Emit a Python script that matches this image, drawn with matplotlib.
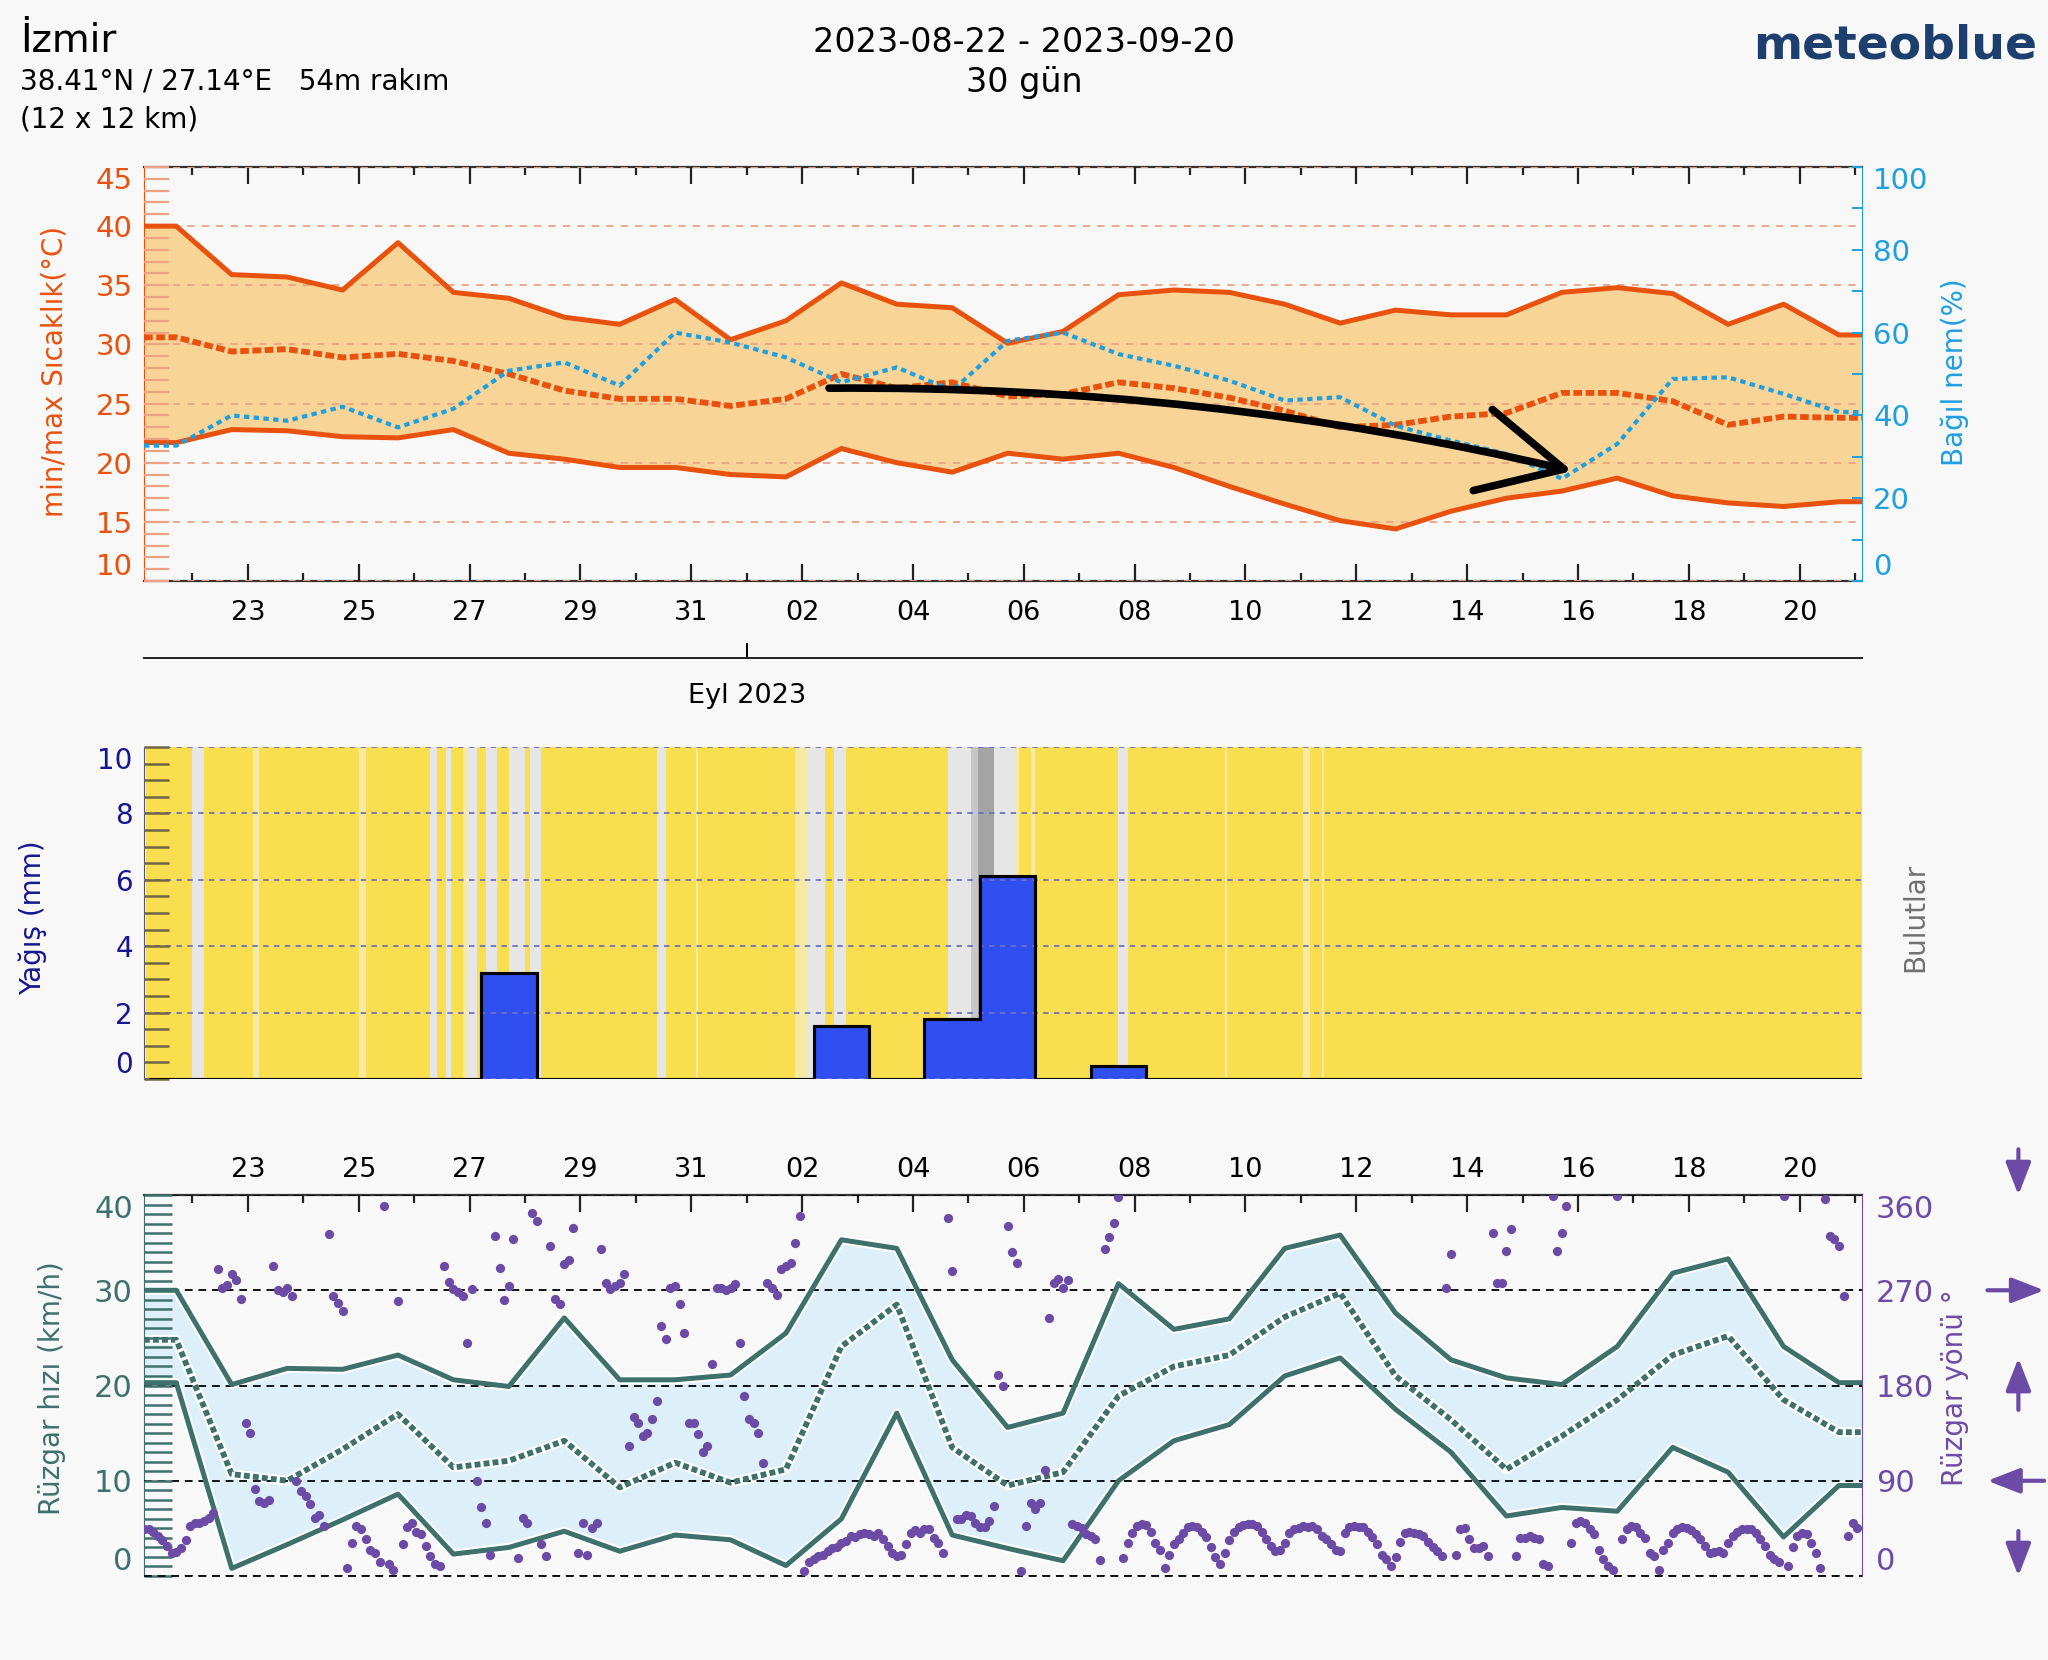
import numpy as np
import pandas as pd
import matplotlib
matplotlib.use("Agg")
import matplotlib.pyplot as plt
import matplotlib.dates as mdates
from matplotlib.colors import ListedColormap
from matplotlib.ticker import FixedLocator, MultipleLocator

plt.rcParams["font.family"] = ["DejaVu Sans"]

# ---------------- data (times are UTC) ----------------
day_times = pd.date_range("2023-08-21 14:00", periods=31, freq="D")

temp_max = [40.0, 35.9, 35.7, 34.6, 38.6, 34.4, 33.9, 32.3, 31.7, 33.8, 30.4,
            32.0, 35.2, 33.4, 33.1, 30.1, 31.1, 34.2, 34.6, 34.4, 33.4, 31.8,
            32.9, 32.5, 32.5, 34.4, 34.8, 34.3, 31.7, 33.4, 30.8]
temp_min = [21.7, 22.8, 22.7, 22.2, 22.1, 22.8, 20.8, 20.3, 19.6, 19.6, 19.0,
            18.8, 21.2, 20.0, 19.2, 20.8, 20.3, 20.8, 19.6, 18.0, 16.5, 15.1,
            14.4, 15.9, 17.0, 17.6, 18.7, 17.2, 16.6, 16.3, 16.7]
temp_mean = [30.6, 29.4, 29.6, 28.9, 29.2, 28.6, 27.5, 26.1, 25.4, 25.4, 24.8,
             25.4, 27.5, 26.3, 26.8, 25.6, 25.8, 26.8, 26.3, 25.5, 24.4, 23.0,
             23.2, 23.9, 24.2, 25.9, 25.9, 25.2, 23.2, 23.9, 23.8]
humidity = [32.7, 40.0, 38.7, 42.1, 37.1, 41.6, 50.8, 52.8, 47.2, 60.0, 57.6,
            54.0, 48.0, 51.6, 46.0, 58.0, 60.0, 54.8, 52.0, 48.4, 43.6, 44.4,
            37.5, 33.9, 30.7, 24.7, 33.1, 48.8, 49.2, 45.2, 40.8]

precip_days = pd.date_range("2023-08-21 02:00", periods=32, freq="D")  # bin edges
precip = [0, 0, 0, 0, 0, 0, 3.2, 0, 0, 0, 0, 0, 1.6, 0, 1.8, 6.1,
          0, 0.4, 0, 0, 0, 0, 0, 0, 0, 0, 0, 0, 0, 0, 0]

# cloudy hours counted from 2023-08-21 01:00 UTC: (first hour, last hour, level)
cloud_spans = [(20, 25, 2), (46, 49, 1), (92, 95, 1), (123, 126, 2), (130, 132, 2),
               (137, 139, 1), (139, 143, 2), (147, 152, 2), (157, 164, 2),
               (166, 171, 2), (221, 225, 2), (238, 239, 1), (281, 286, 1),
               (286, 294, 2), (298, 303, 2), (347, 357, 2), (357, 360, 3),
               (360, 367, 4), (367, 376, 2), (376, 378, 1), (383, 385, 1),
               (421, 425, 2), (467, 468, 1), (501, 504, 1), (509, 510, 1)]
cloud_colors = ["#f9df4f", "#f4eaa6", "#e6e6e6", "#c6c6c6", "#a4a4a4"]

wind_max = [30.0, 20.1, 21.8, 21.7, 23.2, 20.6, 19.9, 27.1, 20.6, 20.6, 21.1,
            25.5, 35.3, 34.4, 22.7, 15.6, 17.1, 30.7, 25.9, 27.0, 34.4, 35.8,
            27.6, 22.7, 20.8, 20.1, 24.1, 31.8, 33.3, 24.1, 20.3]
wind_min = [20.3, 0.8, 3.3, 5.9, 8.6, 2.3, 3.0, 4.7, 2.6, 4.3, 3.8,
            1.1, 6.0, 17.1, 4.3, 2.9, 1.6, 10.0, 14.2, 15.9, 21.0, 22.9,
            17.5, 13.0, 6.3, 7.2, 6.8, 13.5, 10.9, 4.1, 9.5]
wind_mean = [24.8, 10.7, 10.0, 13.3, 17.0, 11.4, 12.1, 14.2, 9.3, 11.9, 9.8,
             11.2, 24.1, 28.5, 13.5, 9.5, 10.9, 18.9, 22.0, 23.2, 27.2, 29.7,
             21.0, 16.4, 11.2, 14.7, 18.5, 23.2, 25.2, 18.5, 15.1]

# wind direction, every 2 hours (00, 02, ... 22 UTC), one row per day
wind_dir_rows = [
    [44, 44, 42, 38, 34, 28, 22, 23, 26, 34, 47, 50],
    [50, 52, 55, 60, 290, 272, 275, 285, 280, 262, 145, 135],
    [82, 71, 69, 72, 293, 270, 268, 272, 265, 90, 80, 76],
    [68, 55, 58, 47, 323, 265, 258, 250, 8, 31, 47, 44],
    [35, 25, 22, 13, 350, 11, 6, 260, 30, 46, 50, 42],
    [40, 28, 19, 11, 9, 293, 278, 271, 268, 265, 220, 271],
    [90, 65, 50, 20, 321, 291, 261, 274, 318, 17, 55, 50],
    [343, 335, 30, 19, 312, 262, 257, 295, 299, 329, 22, 50],
    [20, 45, 50, 309, 277, 271, 274, 277, 285, 123, 150, 145],
    [132, 135, 148, 165, 236, 224, 272, 274, 257, 230, 145, 145],
    [134, 117, 123, 200, 272, 272, 270, 272, 276, 220, 170, 148],
    [145, 135, 107, 277, 272, 266, 290, 293, 296, 315, 340, 5],
    [13, 16, 19, 20, 24, 26, 27, 31, 33, 38, 37, 40],
    [41, 40, 38, 41, 35, 28, 22, 19, 20, 30, 41, 43],
    [41, 44, 44, 36, 31, 22, 338, 288, 54, 54, 58, 57],
    [50, 46, 46, 52, 66, 190, 180, 331, 306, 296, 5, 47],
    [69, 63, 69, 100, 244, 277, 281, 272, 280, 49, 47, 45],
    [40, 38, 35, 15, 309, 320, 334, 358, 17, 31, 41, 47],
    [49, 48, 42, 31, 25, 8, 20, 30, 35, 41, 46, 47],
    [46, 42, 37, 27, 18, 11, 22, 34, 42, 46, 48, 49],
    [49, 47, 42, 35, 28, 24, 25, 31, 41, 44, 45, 47],
    [46, 47, 44, 38, 35, 30, 25, 24, 41, 46, 47, 46],
    [46, 42, 37, 30, 20, 16, 9, 18, 32, 41, 42, 41],
    [40, 38, 32, 27, 24, 19, 272, 304, 20, 44, 45, 35],
    [26, 26, 28, 19, 324, 277, 277, 307, 328, 19, 36, 36],
    [38, 36, 35, 11, 9, 359, 307, 324, 350, 31, 50, 52],
    [50, 44, 40, 25, 16, 9, 6, 359, 35, 44, 47, 46],
    [41, 36, 22, 19, 6, 25, 31, 41, 44, 46, 45, 43],
    [40, 35, 28, 22, 23, 24, 22, 31, 38, 42, 44, 44],
    [44, 41, 35, 28, 20, 16, 13, 359, 9, 27, 38, 41],
    [40, 31, 22, 8, 356, 321, 318, 312, 265, 38, 50, 45],
]

# ---------------- styling ----------------
BG = "#f8f8f8"
ORANGE = "#e9510e"
ORANGE_FILL = "#f8d597"
SALMON = "#eea282"
HUM_BLUE = "#1e9fe0"
NAVY = "#16168f"
BAR_BLUE = "#2f4ff0"
TEAL = "#3e716b"
WIND_FILL = "#ddeff9"
PURPLE = "#6c4ba6"


def dnum(times):
    return mdates.date2num(pd.DatetimeIndex(times).to_pydatetime())


x0, x1 = dnum(["2023-08-21 00:00", "2023-09-21 00:00"])
day_x = dnum(day_times)
xs = np.r_[x0, day_x, x1]


def ext(values):
    # hold first/last daily value out to the plot edges
    v = np.asarray(values, float)
    return np.r_[v[0], v, v[-1]]


# ticks at local (UTC+3) midnight
major_t = pd.date_range("2023-08-22 21:00", "2023-09-19 21:00", freq="2D")
minor_t = pd.date_range("2023-08-21 21:00", "2023-09-20 21:00", freq="D")
major_x = dnum(major_t)
minor_x = dnum(minor_t)
tick_labels = [(t + pd.Timedelta(hours=3)).strftime("%d") for t in major_t]


def y_ticks(ax, lo, hi, step, minor=None):
    vals = np.arange(lo, hi + step / 2, step)
    ax.yaxis.set_major_locator(FixedLocator(vals))
    if minor:
        ax.yaxis.set_minor_locator(MultipleLocator(minor))
    # first/last labels sit inside the axis range, like the original
    ticks = ax.yaxis.get_major_ticks(len(vals))
    for t in (ticks[0],):
        t.label1.set_verticalalignment("bottom")
        t.label2.set_verticalalignment("bottom")
    for t in (ticks[-1],):
        t.label1.set_verticalalignment("top")
        t.label2.set_verticalalignment("top")


def side_label(ax, x, y, text, color, size=20):
    ax.text(x, y, text, transform=ax.transAxes, rotation=90, color=color,
            fontsize=size, ha="center", va="center")


fig = plt.figure(figsize=(20.48, 16.6), dpi=100, facecolor=BG)
L, W = 0.0703, 0.8389
ax_t = fig.add_axes([L, 0.650, W, 0.2494], facecolor=BG)
ax_p = fig.add_axes([L, 0.350, W, 0.200], facecolor=BG)
ax_w = fig.add_axes([L, 0.0506, W, 0.2295], facecolor=BG)
ax_m = fig.add_axes([L, 0.6036, W, 0.0001])

# ---------------- header ----------------
fig.text(0.0098, 0.9687, "İzmir", fontsize=28, va="baseline")
fig.text(0.0098, 0.9458, "38.41°N / 27.14°E   54m rakım", fontsize=20, va="baseline")
fig.text(0.0098, 0.9230, "(12 x 12 km)", fontsize=20, va="baseline")
fig.text(0.5, 0.9687, "2023-08-22 - 2023-09-20", fontsize=24, ha="center", va="baseline")
fig.text(0.5, 0.9446, "30 gün", fontsize=24, ha="center", va="baseline")
fig.text(0.9946, 0.9645, "meteoblue", fontsize=34, fontweight="bold",
         color="#1d3f6e", ha="right", va="baseline")

# ---------------- temperature / humidity ----------------
ax_h = ax_t.twinx()
ax_t.fill_between(xs, ext(temp_min), ext(temp_max), color=ORANGE_FILL, lw=0, zorder=1)
ax_t.plot(xs, ext(temp_max), color=ORANGE, lw=3.6, zorder=3)
ax_t.plot(xs, ext(temp_min), color=ORANGE, lw=3.6, zorder=3)
ax_t.plot(xs, ext(temp_mean), color=ORANGE, lw=4.2, ls=(0, (1.5, 0.6)),
          dash_capstyle="butt", zorder=3)
ax_h.plot(xs, ext(humidity), color=HUM_BLUE, lw=3.0, ls=(0, (1.3, 1.05)),
          dash_capstyle="butt")

ax_t.set_xlim(x0, x1)
ax_t.set_ylim(10, 45)
ax_h.set_ylim(0, 100)
ax_t.set_axisbelow(False)
y_ticks(ax_t, 10, 45, 5, minor=1)
ax_t.yaxis.grid(True, color=SALMON, lw=1.3, ls=(0, (4, 4)))
ax_t.tick_params(axis="y", which="both", direction="in", length=18, width=1.6,
                 color=SALMON, labelcolor=ORANGE, pad=8, labelsize=21)
ax_t.xaxis.set_major_locator(FixedLocator(major_x))
ax_t.xaxis.set_minor_locator(FixedLocator(minor_x))
ax_t.set_xticklabels(tick_labels)
ax_t.tick_params(axis="x", which="both", direction="in", top=True, bottom=True,
                 width=1.6, color="#222222", pad=14, labelsize=19.5)
ax_t.tick_params(axis="x", which="major", length=12)
ax_t.tick_params(axis="x", which="minor", length=6)
side_label(ax_t, -0.052, 0.505, "min/max Sıcaklık(°C)", ORANGE)

y_ticks(ax_h, 0, 100, 20, minor=10)
ax_h.tick_params(axis="y", which="both", direction="in", length=7, width=1.4,
                 color=HUM_BLUE, labelcolor=HUM_BLUE, pad=8, labelsize=21)
side_label(ax_h, 1.054, 0.505, "Bağıl nem(%)", HUM_BLUE)

for sp in ("top", "bottom"):
    ax_t.spines[sp].set_color("#333333")
    ax_t.spines[sp].set_linestyle((0, (3, 1)))
    ax_t.spines[sp].set_linewidth(1.6)
    ax_h.spines[sp].set_visible(False)
ax_t.spines["left"].set_color(ORANGE)
ax_t.spines["right"].set_visible(False)
ax_h.spines["left"].set_visible(False)
ax_h.spines["right"].set_color(HUM_BLUE)

# hand-drawn trend arrow
arrow_from = (dnum(["2023-09-02 08:40"])[0], 26.3)
arrow_to = (dnum(["2023-09-15 18:30"])[0], 19.3)
ax_h.annotate("", xy=arrow_to, xytext=arrow_from,
              xycoords=ax_t.transData, textcoords=ax_t.transData,
              arrowprops=dict(arrowstyle="->,head_length=3.0,head_width=1.5",
                              connectionstyle="arc3,rad=-0.06", color="black",
                              lw=5.5, mutation_scale=20, shrinkA=0, shrinkB=0,
                              capstyle="round", joinstyle="round"))

# month axis
ax_m.set_xlim(x0, x1)
ax_m.set_yticks([])
for sp in ("top", "left", "right"):
    ax_m.spines[sp].set_visible(False)
ax_m.spines["bottom"].set_color("#222222")
ax_m.spines["bottom"].set_linewidth(1.4)
ax_m.patch.set_alpha(0)
month_t = pd.DatetimeIndex(["2023-08-31 21:00"])
ax_m.set_xticks(dnum(month_t))
ax_m.set_xticklabels(["Eyl 2023"])
ax_m.tick_params(axis="x", direction="in", length=11, width=1.4, pad=18,
                 labelsize=19.5)

# ---------------- precipitation / clouds ----------------
hour_edges = dnum(pd.date_range("2023-08-21 01:00", periods=745, freq="h"))
cloud = np.zeros(744, dtype=int)
for s, e, lev in cloud_spans:
    cloud[s:e] = lev
ax_p.pcolormesh(hour_edges, [0, 10], cloud[None, :], cmap=ListedColormap(cloud_colors),
                vmin=-0.5, vmax=4.5, shading="flat", zorder=0)
ax_p.stairs(precip, dnum(precip_days), fill=True, facecolor=BAR_BLUE,
            edgecolor="black", lw=2.2, zorder=2)
ax_p.stairs(precip, dnum(precip_days), fill=False, color="black", lw=2.2, zorder=3)
ax_p.set_xlim(x0, x1)
ax_p.set_ylim(0, 10)
ax_p.set_xticks([])
ax_p.set_axisbelow(False)
y_ticks(ax_p, 0, 10, 2, minor=0.5)
ax_p.yaxis.grid(True, color="#6e6ec8", lw=1.3, ls=(0, (3, 3)))
ax_p.tick_params(axis="y", which="both", direction="in", length=18, width=1.8,
                 color="#6f6545", labelcolor=NAVY, pad=8, labelsize=20)
side_label(ax_p, -0.0648, 0.486, "Yağış (mm)", NAVY)
side_label(ax_p, 1.031, 0.486, "Bulutlar", "#707070")
for sp in ("top", "right", "bottom"):
    ax_p.spines[sp].set_visible(False)
ax_p.spines["left"].set_color("#55557a")

# ---------------- wind ----------------
ax_d = ax_w.twinx()
ax_w.fill_between(xs, ext(wind_min), ext(wind_max), color=WIND_FILL, lw=0, zorder=1)
for series in (wind_max, wind_min):
    ax_w.plot(xs, ext(series), color="white", lw=6.5, zorder=2)
    ax_w.plot(xs, ext(series), color=TEAL, lw=3.6, zorder=3)
ax_w.plot(xs, ext(wind_mean), color="white", lw=7.0, zorder=2)
ax_w.plot(xs, ext(wind_mean), color=TEAL, lw=4.2, ls=(0, (1.0, 0.55)),
          dash_capstyle="butt", zorder=3)

dir_x = dnum(pd.date_range("2023-08-21", periods=31 * 12, freq="2h"))
wind_dir = np.array(wind_dir_rows, float).ravel()
ax_d.scatter(dir_x, wind_dir, s=44, color=PURPLE, lw=0, zorder=4)

ax_w.set_xlim(x0, x1)
ax_w.set_ylim(0, 40)
ax_d.set_ylim(0, 360)
ax_w.set_axisbelow(False)
y_ticks(ax_w, 0, 40, 10, minor=1)
ax_w.yaxis.grid(True, color="#111111", lw=1.4, ls=(0, (4, 3)))
ax_w.axhline(0, color="#111111", lw=1.4, ls=(0, (4, 3)), clip_on=False, zorder=5)
ax_w.tick_params(axis="y", which="both", direction="in", length=20, width=1.8,
                 color=TEAL, labelcolor=TEAL, pad=8, labelsize=22)
ax_w.xaxis.tick_top()
ax_w.xaxis.set_major_locator(FixedLocator(major_x))
ax_w.xaxis.set_minor_locator(FixedLocator(minor_x))
ax_w.set_xticklabels(tick_labels)
ax_w.tick_params(axis="x", which="both", direction="in", top=True, bottom=False,
                 width=1.6, color="#222222", pad=9, labelsize=19.5)
ax_w.tick_params(axis="x", which="major", length=12)
ax_w.tick_params(axis="x", which="minor", length=6)
side_label(ax_w, -0.0534, 0.494, "Rüzgar hızı (km/h)", TEAL)

y_ticks(ax_d, 0, 360, 90)
ax_d.tick_params(axis="y", direction="in", length=0, labelcolor=PURPLE, pad=10,
                 labelsize=22)
side_label(ax_d, 1.054, 0.494, "Rüzgar yönü °", PURPLE)

ax_w.spines["bottom"].set_visible(False)
ax_w.spines["right"].set_visible(False)
ax_w.spines["left"].set_color(TEAL)
ax_w.spines["top"].set_color("#333333")
ax_w.spines["top"].set_linewidth(1.6)
for sp in ("top", "bottom", "left"):
    ax_d.spines[sp].set_visible(False)
ax_d.spines["right"].set_color(PURPLE)

# compass arrows beside the direction axis
arrow_kw = dict(arrowstyle="-|>,head_length=0.9,head_width=0.35", color=PURPLE,
                lw=3, mutation_scale=22, shrinkA=0, shrinkB=0)
compass = [((1.091, 1.12), (1.091, 1.0)),
           ((1.073, 0.75), (1.106, 0.75)),
           ((1.091, 0.436), (1.091, 0.572)),
           ((1.106, 0.25), (1.073, 0.25)),
           ((1.091, 0.118), (1.091, 0.0))]
for tail, head in compass:
    ax_d.annotate("", xy=head, xytext=tail, xycoords="axes fraction",
                  textcoords="axes fraction", arrowprops=arrow_kw,
                  annotation_clip=False)

fig.savefig("out.png", dpi=100, facecolor=BG)
